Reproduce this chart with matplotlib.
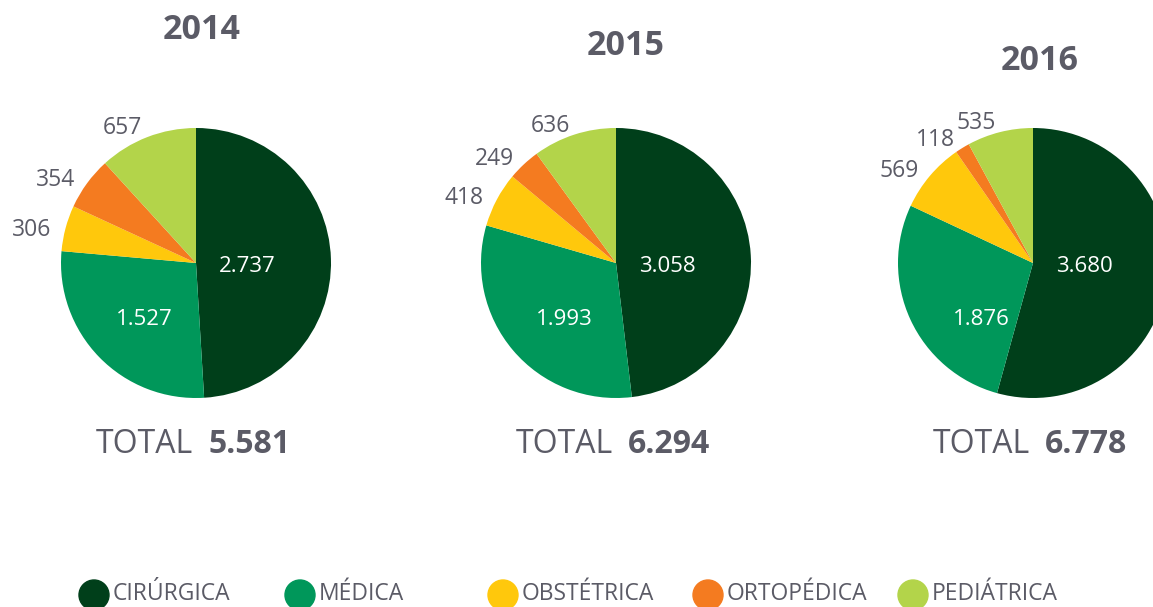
import matplotlib
matplotlib.use('Agg')
import matplotlib.pyplot as plt
from matplotlib.patches import Circle
import numpy as np

plt.rcParams['font.family'] = ['Open Sans', 'DejaVu Sans']

# dados
anos = ['2014', '2015', '2016']
categorias = ['CIRÚRGICA', 'MÉDICA', 'OBSTÉTRICA', 'ORTOPÉDICA', 'PEDIÁTRICA']
cirurgica = [2737, 3058, 3680]
medica = [1527, 1993, 1876]
obstetrica = [306, 418, 569]
ortopedica = [354, 249, 118]
pediatrica = [657, 636, 535]
totais = ['5.581', '6.294', '6.778']

cores = ['#003f1a', '#00975a', '#ffc80c', '#f47b20', '#b3d44a']
cinza = '#5b5b66'

W, H = 1153, 607
fig = plt.figure(figsize=(W / 100, H / 100), dpi=100)
ax = fig.add_axes([0, 0, 1, 1])

def fmt(v):
    return f'{v:,}'.replace(',', '.')

def texto(x, y, s, fs, **kw):
    # y em pixels a partir do topo, centro das maiusculas em y
    base = H - y - 0.357 * fs * 100 / 72
    ax.text(x, base, s, fontsize=fs, va='baseline', **kw)

cx_list = [196, 616, 1033]
cy_px = 263
r = 135
titulo_y = [27, 43, 58]
titulo_x = [202, 626, 1040]
# posicao fixa dos rotulos internos (relativa ao centro, em fracao do raio)
off_dentro = [(0.38, 0.01), (-0.38, 0.40)]

for i, ano in enumerate(anos):
    vals = [cirurgica[i], medica[i], obstetrica[i], ortopedica[i], pediatrica[i]]
    cx = cx_list[i]
    wedges, _ = ax.pie(vals, colors=cores, startangle=90, counterclock=False,
                       center=(cx, H - cy_px), radius=r, wedgeprops=dict(linewidth=0))
    for k, w in enumerate(wedges):
        if k < 2:
            dx, dy = off_dentro[k]
            texto(cx + dx * r, cy_px + dy * r, fmt(vals[k]), 16,
                  color='white', ha='center')
        else:
            ang = np.deg2rad((w.theta1 + w.theta2) / 2)
            d = 1.11 * r
            texto(cx + d * np.cos(ang), cy_px - d * np.sin(ang) + 3, fmt(vals[k]), 16.5,
                  color=cinza, ha='right')
    texto(titulo_x[i], titulo_y[i], ano, 24.5, fontweight='bold', color=cinza, ha='center')
    texto(cx - 3, 442, 'TOTAL', 23, color=cinza, ha='right')
    texto(cx + 12, 442, totais[i], 23, fontweight='bold', color=cinza, ha='left')

# legenda
leg_x = [94, 300, 503, 708, 913]
for k, cat in enumerate(categorias):
    ax.add_patch(Circle((leg_x[k], H - 595), 15, color=cores[k], clip_on=False))
    texto(leg_x[k] + 19, 592, cat, 16.5, color=cinza, ha='left')

ax.set_xlim(0, W)
ax.set_ylim(0, H)
ax.set_aspect('auto')
ax.axis('off')

plt.savefig('out.png', dpi=100)
